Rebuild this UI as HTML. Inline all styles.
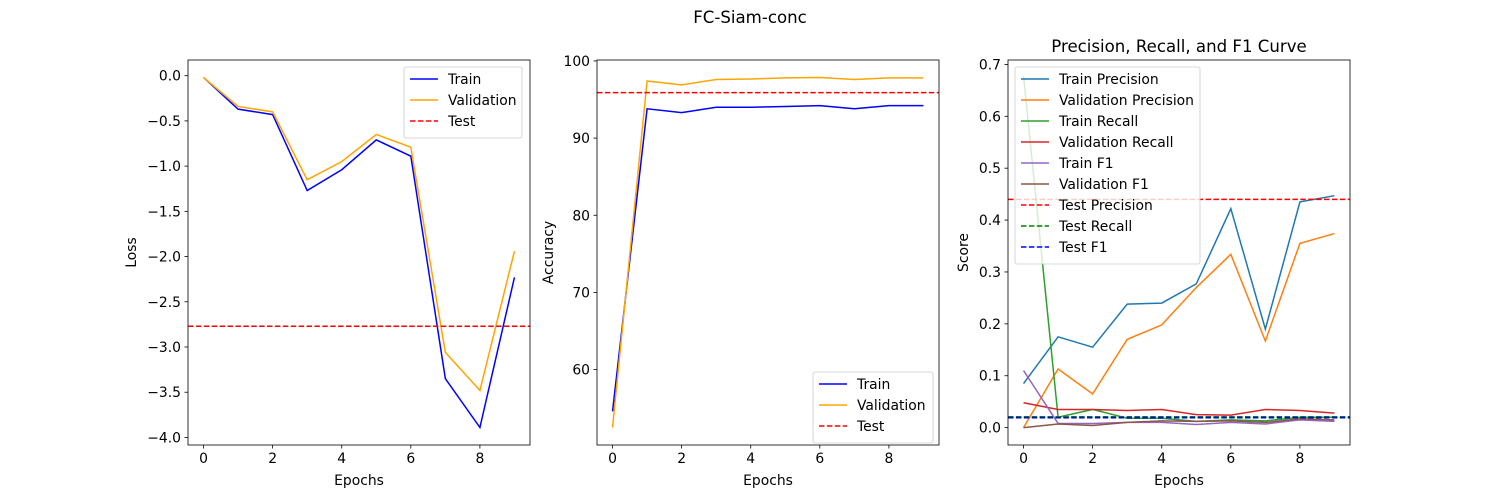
<!DOCTYPE html>
<html><head><meta charset="utf-8"><style>
body{margin:0;background:#fff;}
svg{display:block;font-family:"DejaVu Sans","Liberation Sans",sans-serif;}
</style></head><body>
<svg id="fig" width="1500" height="500" viewBox="0 0 1500 500">
<rect width="1500" height="500" fill="#fff"/>
<text x="750" y="23" font-size="16.6" text-anchor="middle" fill="#000">FC-Siam-conc</text>
</svg>
<script>
const epochs=[0,1,2,3,4,5,6,7,8,9];
const xTicks=[0,2,4,6,8];
const lossTrain=[-0.02,-0.37,-0.43,-1.27,-1.04,-0.71,-0.89,-3.35,-3.89,-2.23];
const lossVal=[-0.02,-0.34,-0.40,-1.15,-0.95,-0.65,-0.79,-3.06,-3.48,-1.94];
const lossTest=-2.77;
const lossTicks=[0,-0.5,-1,-1.5,-2,-2.5,-3,-3.5,-4];
const lossTickLabels=["0.0","\u22120.5","\u22121.0","\u22121.5","\u22122.0","\u22122.5","\u22123.0","\u22123.5","\u22124.0"];
const accTrain=[54.6,93.8,93.3,94.0,94.0,94.1,94.2,93.8,94.2,94.2];
const accVal=[52.5,97.4,96.9,97.6,97.65,97.8,97.85,97.6,97.8,97.8];
const accTest=95.9;
const accTicks=[60,70,80,90,100];
const trainPrec=[0.085,0.175,0.155,0.238,0.240,0.277,0.422,0.190,0.435,0.447];
const valPrec=[0.0,0.113,0.065,0.170,0.198,0.270,0.334,0.167,0.355,0.374];
const trainRec=[0.678,0.020,0.035,0.018,0.018,0.012,0.015,0.013,0.020,0.020];
const valRec=[0.048,0.035,0.035,0.033,0.035,0.025,0.024,0.035,0.033,0.028];
const trainF1=[0.110,0.008,0.008,0.010,0.010,0.006,0.010,0.007,0.015,0.012];
const valF1=[0.0,0.007,0.004,0.010,0.013,0.012,0.013,0.010,0.017,0.015];
const testPrec=0.44, testRec=0.021, testF1=0.019;
const scoreTicks=[0,0.1,0.2,0.3,0.4,0.5,0.6,0.7];
const scoreTickLabels=["0.0","0.1","0.2","0.3","0.4","0.5","0.6","0.7"];

const NS="http://www.w3.org/2000/svg";
const fig=document.getElementById('fig');
const FS=13.9;
function el(tag,attrs,parent){const e=document.createElementNS(NS,tag);for(const k in attrs)e.setAttribute(k,attrs[k]);(parent||fig).appendChild(e);return e;}

function chart(o){
  const L=o.left,R=o.left+342,T=60,B=445;
  const sx=v=>L+(v-(-0.45))/(9.9)*(R-L);
  const sy=v=>B-(v-o.ymin)/(o.ymax-o.ymin)*(B-T);
  const g=el('g',{});
  
  
  xTicks.forEach(t=>{
    const l=el('line',{x1:sx(t),x2:sx(t),y1:B,y2:B+3.5,stroke:'#000','stroke-width':0.8},g);
    
    const tx=el('text',{x:sx(t),y:B+18,'font-size':FS,'text-anchor':'middle'},g);tx.textContent=t;
    
  });
  o.yticks.forEach((t,i)=>{
    const l=el('line',{x1:L-3.5,x2:L,y1:sy(t),y2:sy(t),stroke:'#000','stroke-width':0.8},g);
    
    const tx=el('text',{x:L-7,y:sy(t)+5,'font-size':FS,'text-anchor':'end'},g);tx.textContent=o.ylabels?o.ylabels[i]:t;
    
  });
  const xl=el('text',{x:(L+R)/2,y:485,'font-size':FS,'text-anchor':'middle'},g);xl.textContent='Epochs';
  
  const yl=el('text',{x:0,y:0,'font-size':FS,'text-anchor':'middle',transform:`translate(${o.ylx},${(T+B)/2}) rotate(-90)`},g);yl.textContent=o.ylabel;
  
  if(o.title){const t=el('text',{x:(L+R)/2,y:52,'font-size':16.6,'text-anchor':'middle'},g);t.textContent=o.title;
    }
  const clip='c'+o.left;
  const cp=el('clipPath',{id:clip},g);el('rect',{x:L,y:T,width:R-L,height:B-T},cp);
  const pg=el('g',{'clip-path':`url(#${clip})`},g);
  o.series.forEach(s=>{
    if(s.data){
      const p=el('polyline',{points:s.data.map((v,i)=>sx(epochs[i])+','+sy(v)).join(' '),fill:'none',stroke:s.color,'stroke-width':1.5},pg);
      
    } else {
      const p=el('line',{x1:L,x2:R,y1:sy(s.h),y2:sy(s.h),stroke:s.color,'stroke-width':1.5,'stroke-dasharray':'5.5,2.4'},pg);
      
    }
  });
  const fr=el('rect',{x:L,y:T,width:R-L,height:B-T,fill:'none',stroke:'#000','stroke-width':0.8},g);
  
  const lg=el('g',{},g);
  
  const n=o.series.length;
  el('rect',{x:o.lx,y:o.ly,width:o.lw,height:n*21+8,fill:'#fff','fill-opacity':0.8,stroke:'#ccc','stroke-width':0.8,rx:2},lg);
  o.series.forEach((s,i)=>{
    const yy=o.ly+12+i*21;
    const ln=el('line',{x1:o.lx+6,x2:o.lx+34,y1:yy,y2:yy,stroke:s.color,'stroke-width':1.5},lg);
    if(!s.data)ln.setAttribute('stroke-dasharray','5.5,2.4');
    const t=el('text',{x:o.lx+44,y:yy+5,'font-size':FS},lg);t.textContent=s.label;
    
  });
}
chart({name:'loss-chart',left:188,ymin:-4.0835,ymax:0.1735,yticks:lossTicks,ylabels:lossTickLabels,ylabel:'Loss',ylx:136,
  lx:404,ly:67,lw:118,
  series:[{id:'train-loss-line',label:'Train',color:'#0000ff',data:lossTrain},
          {id:'validation-loss-line',label:'Validation',color:'#ffa500',data:lossVal},
          {id:'test-loss-line',label:'Test',color:'#ff0000',h:lossTest}]});
chart({name:'accuracy-chart',left:597,ymin:50.23,ymax:100.12,yticks:accTicks,ylabel:'Accuracy',ylx:553,
  lx:813,ly:372,lw:120,
  series:[{id:'train-accuracy-line',label:'Train',color:'#0000ff',data:accTrain},
          {id:'validation-accuracy-line',label:'Validation',color:'#ffa500',data:accVal},
          {id:'test-accuracy-line',label:'Test',color:'#ff0000',h:accTest}]});
chart({name:'score-chart',left:1008,ymin:-0.0335,ymax:0.7085,yticks:scoreTicks,ylabels:scoreTickLabels,ylabel:'Score',ylx:968,title:'Precision, Recall, and F1 Curve',
  lx:1015,ly:67,lw:185,
  series:[{id:'train-precision-line',label:'Train Precision',color:'#1f77b4',data:trainPrec},
          {id:'validation-precision-line',label:'Validation Precision',color:'#ff7f0e',data:valPrec},
          {id:'train-recall-line',label:'Train Recall',color:'#2ca02c',data:trainRec},
          {id:'validation-recall-line',label:'Validation Recall',color:'#d62728',data:valRec},
          {id:'train-f1-line',label:'Train F1',color:'#9467bd',data:trainF1},
          {id:'validation-f1-line',label:'Validation F1',color:'#8c564b',data:valF1},
          {id:'test-precision-line',label:'Test Precision',color:'#ff0000',h:testPrec},
          {id:'test-recall-line',label:'Test Recall',color:'#008000',h:testRec},
          {id:'test-f1-line',label:'Test F1',color:'#0000ff',h:testF1}]});
</script>
</body></html>
